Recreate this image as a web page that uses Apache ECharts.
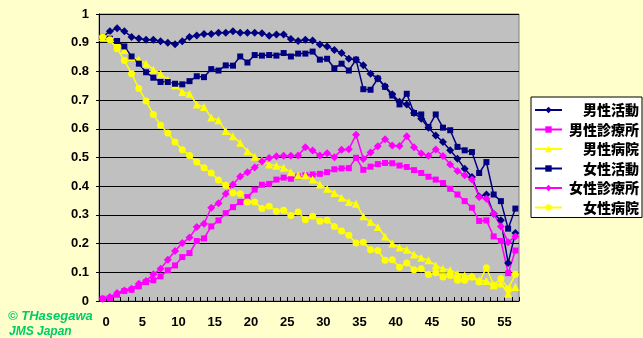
<!DOCTYPE html>
<html>
<head>
<meta charset="utf-8">
<script src="https://cdn.jsdelivr.net/npm/echarts@6/dist/echarts.min.js"></script>
<style>
  html, body { margin: 0; padding: 0; background: #FFFFCC; }
  #chart { width: 643px; height: 338px; }
</style>
</head>
<body>
<div id="chart"></div>
<script>
// Age categories 0..57
const categories = Array.from({ length: 58 }, (_, i) => String(i));

// Series names
const seriesNames = ['男性活動', '男性診療所', '男性病院', '女性活動', '女性診療所', '女性病院'];

// 男性活動
const maleActivity = [
  0.92, 0.94, 0.95, 0.94, 0.92, 0.915, 0.91, 0.91, 0.905, 0.90,
  0.895, 0.905, 0.92, 0.925, 0.93, 0.93, 0.935, 0.935, 0.94, 0.935,
  0.935, 0.935, 0.933, 0.924, 0.929, 0.929, 0.913, 0.906, 0.910, 0.908,
  0.894, 0.887, 0.875, 0.864, 0.844, 0.841, 0.821, 0.792, 0.775, 0.748,
  0.720, 0.694, 0.685, 0.655, 0.635, 0.604, 0.577, 0.554, 0.525, 0.496,
  0.461, 0.432, 0.364, 0.371, 0.304, 0.281, 0.132, 0.237
];

// 男性診療所
const maleClinic = [
  0.008, 0.010, 0.022, 0.035, 0.039, 0.051, 0.066, 0.072, 0.086, 0.107,
  0.124, 0.153, 0.167, 0.209, 0.218, 0.260, 0.281, 0.306, 0.327, 0.345,
  0.362, 0.388, 0.405, 0.408, 0.423, 0.430, 0.426, 0.434, 0.438, 0.441,
  0.443, 0.449, 0.459, 0.462, 0.463, 0.499, 0.457, 0.468, 0.477, 0.481,
  0.480, 0.472, 0.467, 0.456, 0.446, 0.433, 0.423, 0.411, 0.391, 0.371,
  0.348, 0.325, 0.279, 0.281, 0.225, 0.209, 0.097, 0.176
];

// 男性病院
const maleHospital = [
  0.920, 0.917, 0.902, 0.875, 0.850, 0.841, 0.827, 0.806, 0.792, 0.771,
  0.752, 0.728, 0.722, 0.685, 0.676, 0.639, 0.630, 0.592, 0.574, 0.551,
  0.522, 0.503, 0.490, 0.476, 0.471, 0.464, 0.449, 0.438, 0.438, 0.423,
  0.406, 0.391, 0.376, 0.360, 0.345, 0.339, 0.295, 0.275, 0.258, 0.225,
  0.200, 0.186, 0.179, 0.162, 0.151, 0.142, 0.124, 0.112, 0.107, 0.095,
  0.089, 0.086, 0.072, 0.070, 0.055, 0.061, 0.025, 0.049
];

// 女性活動
const femaleActivity = [
  0.92, 0.914, 0.906, 0.887, 0.852, 0.827, 0.797, 0.778, 0.763, 0.763,
  0.757, 0.755, 0.766, 0.783, 0.780, 0.808, 0.803, 0.821, 0.820, 0.852,
  0.831, 0.857, 0.855, 0.857, 0.855, 0.864, 0.852, 0.862, 0.862, 0.869,
  0.841, 0.844, 0.811, 0.827, 0.803, 0.841, 0.738, 0.736, 0.775, 0.746,
  0.716, 0.685, 0.722, 0.655, 0.650, 0.606, 0.650, 0.604, 0.595, 0.537,
  0.525, 0.519, 0.446, 0.484, 0.371, 0.348, 0.252, 0.322
];

// 女性診療所
const femaleClinic = [
  0.008, 0.014, 0.028, 0.037, 0.043, 0.060, 0.070, 0.093, 0.112, 0.144,
  0.174, 0.202, 0.221, 0.258, 0.269, 0.325, 0.341, 0.374, 0.406, 0.434,
  0.449, 0.465, 0.486, 0.498, 0.504, 0.506, 0.506, 0.507, 0.536, 0.524,
  0.507, 0.515, 0.501, 0.527, 0.529, 0.579, 0.495, 0.517, 0.539, 0.564,
  0.542, 0.540, 0.574, 0.536, 0.514, 0.506, 0.528, 0.505, 0.476, 0.453,
  0.438, 0.423, 0.362, 0.356, 0.304, 0.260, 0.205, 0.225
];

// 女性病院
const femaleHospital = [
  0.920, 0.910, 0.879, 0.838, 0.792, 0.740, 0.697, 0.650, 0.612, 0.585,
  0.554, 0.527, 0.507, 0.484, 0.464, 0.446, 0.422, 0.403, 0.376, 0.374,
  0.345, 0.345, 0.322, 0.330, 0.313, 0.316, 0.298, 0.310, 0.283, 0.295,
  0.278, 0.281, 0.260, 0.244, 0.229, 0.202, 0.205, 0.179, 0.176, 0.142,
  0.144, 0.118, 0.132, 0.109, 0.112, 0.092, 0.098, 0.084, 0.089, 0.072,
  0.072, 0.084, 0.066, 0.116, 0.055, 0.078, 0.043, 0.093
];

const seriesData = [maleActivity, maleClinic, maleHospital, femaleActivity, femaleClinic, femaleHospital];
const seriesColors = ['#000080', '#FF00FF', '#FFFF00', '#000080', '#FF00FF', '#FFFF00'];
const seriesSymbols = ['diamond', 'rect', 'triangle', 'rect', 'diamond', 'circle'];
const symbolSizes = [8, 6, 8, 6, 8, 7];

const FONT = '"Liberation Sans", Arial, sans-serif';

const chart = echarts.init(document.getElementById('chart'), null, { renderer: 'canvas' });

chart.setOption({
  backgroundColor: '#FFFFCC',
  animation: false,
  grid: {
    left: 99, right: 124, top: 14, bottom: 37,
    show: true,
    backgroundColor: '#C0C0C0',
    borderColor: '#808080',
    borderWidth: 1
  },
  legend: {
    orient: 'vertical',
    left: 531,
    top: 97,
    backgroundColor: '#FFFFFF',
    borderColor: '#000000',
    borderWidth: 1,
    borderRadius: 0,
    padding: [6, 3, 3, 3],
    itemWidth: 27,
    itemHeight: 8,
    itemGap: 5.5,
    data: seriesNames,
    formatter: name => '{n|' + name + '}',
    textStyle: {
      fontWeight: 900,
      rich: {
        n: {
          width: 72,
          align: 'right',
          fontSize: 14,
          lineHeight: 14,
          fontWeight: 900,
          color: '#000000',
          fontFamily: '"Noto Sans CJK JP", sans-serif'
        }
      }
    }
  },
  xAxis: {
    type: 'category',
    data: categories,
    boundaryGap: true,
    axisLine: { show: true, lineStyle: { color: '#000000', width: 1 } },
    axisTick: { show: true, inside: true, length: 4, interval: 0, lineStyle: { color: '#000000' } },
    axisLabel: {
      interval: 4,
      color: '#000000',
      fontWeight: 'bold',
      fontSize: 13,
      fontFamily: FONT,
      margin: 15,
      padding: [0, 0, 0, 7]
    },
    splitLine: { show: false }
  },
  yAxis: {
    type: 'value',
    min: 0,
    max: 1,
    interval: 0.1,
    axisLine: { show: true, lineStyle: { color: '#000000', width: 1 } },
    axisTick: { show: true, length: 3, lineStyle: { color: '#000000' } },
    axisLabel: {
      color: '#000000',
      fontWeight: 'bold',
      fontSize: 13,
      fontFamily: FONT,
      margin: 10,
      padding: [6, 0, 0, 0]
    },
    splitLine: { show: true, lineStyle: { color: '#000000', width: 1 } }
  },
  graphic: [
    {
      type: 'text', left: 8, top: 310,
      style: { text: '© THasegawa', font: 'italic bold 13px ' + FONT, fill: '#00CC66' }
    },
    {
      type: 'text', left: 9, top: 326,
      style: { text: 'JMS Japan', font: 'italic bold 12px ' + FONT, fill: '#00CC66' }
    }
  ],
  series: seriesNames.map((name, k) => ({
    name: name,
    type: 'line',
    data: seriesData[k],
    symbol: seriesSymbols[k],
    symbolSize: symbolSizes[k],
    showAllSymbol: true,
    lineStyle: { color: seriesColors[k], width: 1.5 },
    itemStyle: { color: seriesColors[k] },
    emphasis: { disabled: true }
  }))
});
</script>
</body>
</html>
